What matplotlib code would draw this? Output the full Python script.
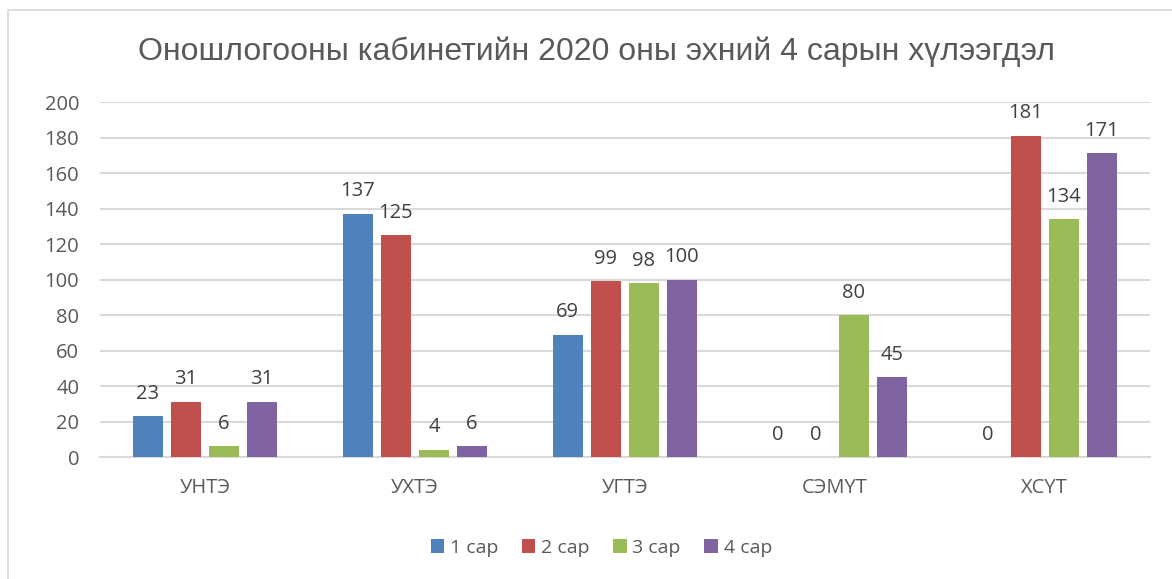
import matplotlib.pyplot as plt
import numpy as np
from matplotlib.patches import Rectangle

# Өгөгдөл
categories = ['УНТЭ', 'УХТЭ', 'УГТЭ', 'СЭМҮТ', 'ХСҮТ']
series_names = ['1 сар', '2 сар', '3 сар', '4 сар']
sar1 = [23, 137, 69, 0, 0]
sar2 = [31, 125, 99, 0, 181]
sar3 = [6, 4, 98, 80, 134]
sar4 = [31, 6, 100, 45, 171]
colors = ['#4F81BD', '#C0504D', '#9BBB59', '#8064A2']

plt.rcParams['font.family'] = ['Open Sans', 'DejaVu Sans']

fig = plt.figure(figsize=(11.72, 5.79), dpi=100)
ax = fig.add_axes([0.0853, 0.2107, 0.8957, 0.6131])

# Хүрээ
fig.patches.append(Rectangle((0.007, -0.01), 1.0, 0.993, transform=fig.transFigure,
                             fill=False, edgecolor='#D9D9D9', linewidth=1.2))

x = np.arange(len(categories))
step = 0.181
width = 0.143
for i, (vals, name) in enumerate(zip([sar1, sar2, sar3, sar4], series_names)):
    pos = x + (i - 1.5) * step
    ax.bar(pos, vals, width, color=colors[i], label=name, zorder=3)
    for p, v in zip(pos, vals):
        ax.annotate(str(v), (p, v), xytext=(0, 9), textcoords='offset points',
                    ha='center', va='bottom', fontsize=14.5, color='#404040')

ax.set_xlim(-0.5, 4.5)
ax.set_ylim(0, 200)
ax.set_yticks(range(0, 201, 20))
ax.set_xticks(x)
ax.set_xticklabels(categories)
ax.tick_params(axis='both', length=0, labelsize=14.5, colors='#595959')
ax.tick_params(axis='x', pad=15)
ax.tick_params(axis='y', pad=15)
ax.grid(axis='y', color='#D9D9D9', linewidth=1.5, zorder=0)
for s in ['top', 'right', 'left']:
    ax.spines[s].set_visible(False)
ax.spines['bottom'].set_color('#D9D9D9')
ax.spines['bottom'].set_linewidth(1.5)

fig.text(0.509, 0.911, 'Оношлогооны кабинетийн 2020 оны эхний 4 сарын хүлээгдэл',
         ha='center', va='center', fontsize=23, color='#595959',
         family=['Liberation Sans', 'DejaVu Sans'])

fig.legend(loc='center', bbox_to_anchor=(0.513, 0.054), ncol=4, frameon=False,
           fontsize=14, handlelength=0.7, handleheight=0.7, handletextpad=0.3,
           columnspacing=1.2, labelcolor='#595959')

fig.savefig('out.png', dpi=100)
